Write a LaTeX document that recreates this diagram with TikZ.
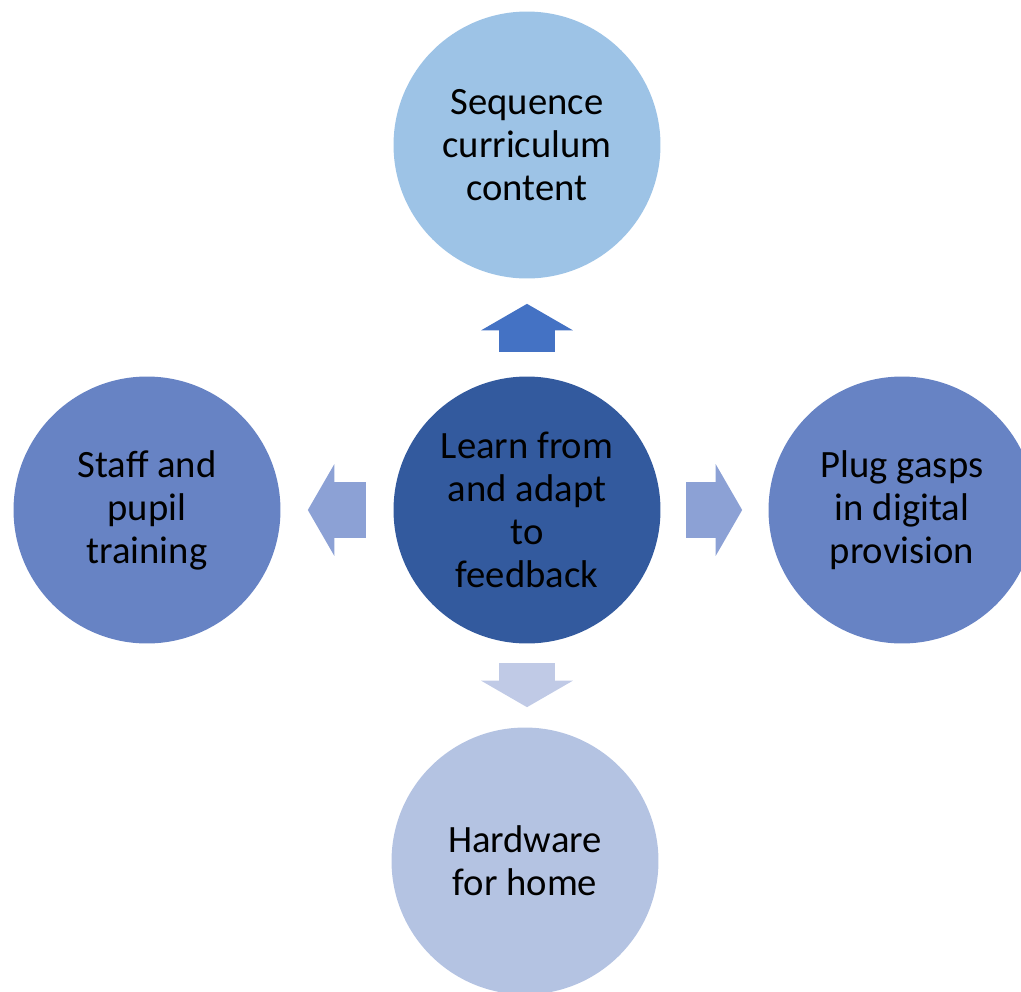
\documentclass[tikz,border=0pt]{standalone}
\usepackage{fontspec}
\setmainfont{Carlito}
\usetikzlibrary{calc,shapes.arrows}

\definecolor{seqblue}{HTML}{9DC3E6}
\definecolor{ctrblue}{HTML}{335A9E}
\definecolor{sideblue}{HTML}{6783C4}
\definecolor{homeblue}{HTML}{B4C3E2}
\definecolor{uparrow}{HTML}{4472C4}
\definecolor{sidearrow}{HTML}{8CA1D5}
\definecolor{downarrow}{HTML}{C0CAE6}

\begin{document}
\begin{tikzpicture}
      [
        x=0.02cm, y=-0.02cm,
        bubble/.style={circle, minimum size=5.34cm, inner sep=0pt, align=center,
          font=\fontsize{22}{24.5}\selectfont},
        blockarrow/.style={single arrow, anchor=tail, inner xsep=0pt, inner ysep=0.55cm,
          single arrow head extend=0.36cm, single arrow tip angle=120}
      ]

      \clip (0,0) rectangle (1021,991);

      \node[bubble, fill=ctrblue] (ctr) at (527,510) {Learn from\\and adapt\\to\\feedback};
      \node[bubble, fill=seqblue] (seq) at (527,145) {Sequence\\curriculum\\content};
      \node[bubble, fill=sideblue] (staff) at (147,510) {Staff and\\pupil\\training};
      \node[bubble, fill=sideblue] (plug) at (902,510) {Plug gasps\\in digital\\provision};
      \node[bubble, fill=homeblue] (home) at (525,861) {Hardware\\for home};

      % block arrows start a little off the middle circle
      \node[blockarrow, fill=uparrow, minimum height=0.96cm, rotate=90]
        (a1) at ($(ctr.north)+(0,-24)$) {};
      \node[blockarrow, fill=sidearrow, minimum height=1.16cm, rotate=180]
        (a2) at ($(ctr.west)+(-27,0)$) {};
      \node[blockarrow, fill=sidearrow, minimum height=1.12cm]
        (a3) at ($(ctr.east)+(25,0)$) {};
      \node[blockarrow, fill=downarrow, minimum height=0.88cm, rotate=-90]
        (a4) at ($(ctr.south)+(0,19)$) {};

    \end{tikzpicture}
\end{document}
